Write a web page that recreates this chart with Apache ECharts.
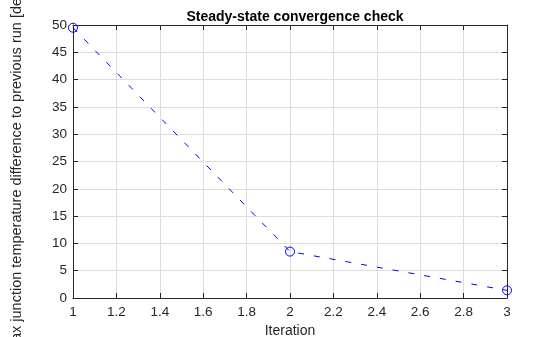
<!DOCTYPE html>
<html><head><meta charset="utf-8">
<script src="https://cdn.jsdelivr.net/npm/echarts@6/dist/echarts.min.js"></script>
<style>html,body{margin:0;padding:0;background:#fff}#c{width:560px;height:337px}</style>
</head><body><div id="c"></div>
<script>
const iterations = [1, 2, 3];
const maxDiff = [49.5, 8.5, 1.4];
const titleText = 'Steady-state convergence check';
const xLabel = 'Iteration';
const yLabel = 'Max junction temperature difference to previous run [deg]';

const chart = echarts.init(document.getElementById('c'), null, {renderer: 'canvas'});
const axisColor = '#262626';
const font = 'Liberation Sans, Arial, Helvetica, sans-serif';
const fs = 13.5;
function axisBase() {
  return {
    axisLine: {show: true, onZero: false, lineStyle: {color: axisColor, width: 1}},
    axisTick: {show: true, inside: true, length: 5, lineStyle: {color: axisColor}},
    axisLabel: {color: axisColor, fontSize: fs, fontFamily: font},
    splitLine: {show: true, lineStyle: {color: '#dcdcdc', width: 1}}
  };
}
const xb = axisBase(), xt = axisBase(), yl = axisBase(), yr = axisBase();
chart.setOption({
  animation: false,
  title: {text: titleText, left: 290, textAlign: 'center', top: 5,
    textStyle: {fontSize: 14, fontWeight: 'bold', color: '#000', fontFamily: font}},
  grid: {left: 73, top: 25, width: 434, height: 273, containLabel: false, outerBoundsMode: 'none'},
  xAxis: [
    Object.assign(xb, {type: 'value', min: 1, max: 3, interval: 0.2, position: 'bottom',
      name: xLabel, nameLocation: 'middle', nameGap: 25,
      nameTextStyle: {color: axisColor, fontSize: 14, fontFamily: font},
      axisLabel: {color: axisColor, fontSize: fs, fontFamily: font, margin: 7,
        formatter: function (v) { return String(Math.round(v * 10) / 10); }}}),
    Object.assign(xt, {type: 'value', min: 1, max: 3, interval: 0.2, position: 'top',
      axisLabel: {show: false}, splitLine: {show: false}})
  ],
  yAxis: [
    Object.assign(yl, {type: 'value', min: 0, max: 50, interval: 5, position: 'left',
      name: yLabel, nameLocation: 'middle', nameGap: 49,
      nameTextStyle: {color: axisColor, fontSize: 14.5, fontFamily: font, padding: [0, 16, 0, 0]},
      axisLabel: {color: axisColor, fontSize: fs, fontFamily: font, margin: 6}}),
    Object.assign(yr, {type: 'value', min: 0, max: 50, interval: 5, position: 'right',
      axisLabel: {show: false}, splitLine: {show: false}})
  ],
  series: [{
    type: 'line', xAxisIndex: 0, yAxisIndex: 0,
    data: iterations.map(function (x, i) { return [x, maxDiff[i]]; }),
    symbol: 'circle', symbolSize: 9, showSymbol: true,
    lineStyle: {color: '#0000ff', width: 1, type: [6, 10]},
    itemStyle: {color: 'rgba(0,0,0,0)', borderColor: '#0000ff', borderWidth: 1},
    clip: false
  }]
});
</script></body></html>
